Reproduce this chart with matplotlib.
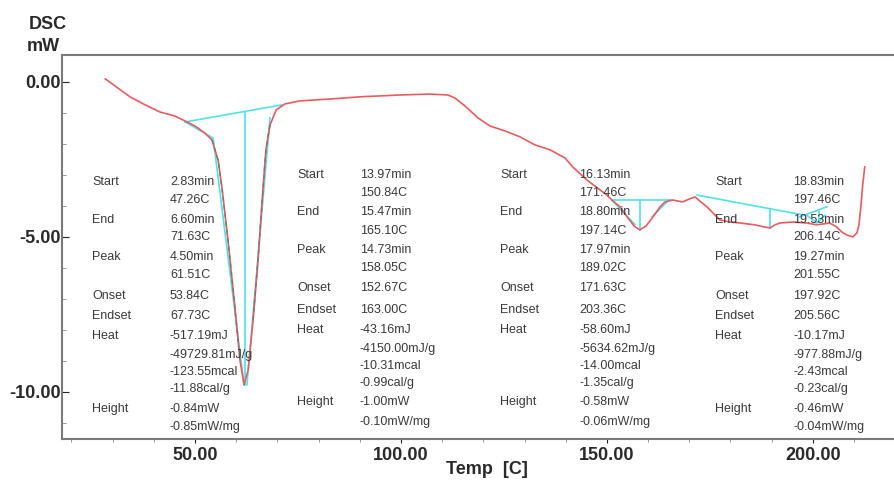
import numpy as np
import matplotlib.pyplot as plt
from matplotlib.ticker import MultipleLocator

plt.rcParams['font.family'] = ['Liberation Sans', 'DejaVu Sans']

# DSC trace (temperature in C, heat flow in mW)
temp = [28.2, 30.6, 34.2, 37.9, 41.5, 45.1, 47.6, 50.0, 52.4, 54.1, 55.6, 56.6,
        58.0, 59.5, 60.9, 61.9, 62.9, 64.1, 65.3, 66.3, 67.2, 68.2, 69.7, 71.8,
        75.5, 82.8, 90.0, 99.8, 107.0, 111.4, 113.1, 115.5, 118.7, 121.6, 125.2,
        128.9, 132.5, 136.2, 139.8, 141.7, 145.1, 148.3, 150.0, 151.2, 153.2,
        154.9, 156.6, 158.0, 159.5, 161.2, 162.9, 164.1, 166.0, 168.4, 170.1,
        171.4, 172.8, 174.3, 176.0, 177.4, 179.9, 182.3, 185.9, 188.3, 189.6,
        190.8, 192.0, 195.1, 198.5, 201.0, 204.1, 205.8, 207.0, 208.3, 209.7,
        210.7, 211.2, 211.7, 212.1, 212.6]
dsc = [0.10, -0.13, -0.48, -0.74, -0.97, -1.10, -1.26, -1.42, -1.65, -1.87, -2.52, -3.48,
       -5.10, -7.03, -8.97, -9.77, -9.29, -7.68, -5.74, -3.81, -2.19, -1.39, -0.90, -0.71,
       -0.61, -0.55, -0.48, -0.42, -0.39, -0.42, -0.52, -0.77, -1.16, -1.42, -1.58,
       -1.77, -2.03, -2.19, -2.45, -2.74, -3.16, -3.48, -3.65, -3.81, -4.03,
       -4.35, -4.65, -4.77, -4.65, -4.35, -4.03, -3.87, -3.81, -3.87, -3.77,
       -3.71, -3.87, -4.03, -4.26, -4.45, -4.52, -4.55, -4.61, -4.68, -4.71,
       -4.61, -4.55, -4.52, -4.55, -4.61, -4.55, -4.68, -4.84, -4.94, -5.00,
       -4.87, -4.61, -3.97, -3.32, -2.74]

# peak analysis construction lines: (temps, values)
cyan_lines = [
    ([47.6, 71.1], [-1.29, -0.74]),      # peak 1 baseline
    ([62.1, 62.1], [-1.00, -9.77]),      # peak 1 height
    ([47.6, 54.4, 61.9], [-1.29, -1.81, -9.77]),
    ([68.2, 62.6], [-1.16, -9.77]),
    ([151.2, 165.7], [-3.81, -3.81]),    # peak 2 baseline
    ([158.0, 158.0], [-3.81, -4.77]),
    ([151.2, 156.8], [-3.81, -4.60]),
    ([165.0, 161.0], [-3.81, -4.35]),
    ([171.9, 197.6], [-3.65, -4.29]),    # peak 3 baseline
    ([189.6, 189.6], [-4.09, -4.71]),
    ([196.8, 203.4], [-4.35, -4.03]),    # peak 4 baseline
    ([201.5, 201.5], [-4.17, -4.52]),
    ([198.5, 201.0, 203.0], [-4.30, -4.55, -4.30]),
]

row_labels = ['Start', 'End', 'Peak', 'Onset', 'Endset', 'Heat', 'Height']
label_rows = [0, 2, 4, 6, 7, 8, 12]

values_1 = ['2.83min', '47.26C', '6.60min', '71.63C', '4.50min', '61.51C', '53.84C',
            '67.73C', '-517.19mJ', '-49729.81mJ/g', '-123.55mcal', '-11.88cal/g',
            '-0.84mW', '-0.85mW/mg']
values_2 = ['13.97min', '150.84C', '15.47min', '165.10C', '14.73min', '158.05C', '152.67C',
            '163.00C', '-43.16mJ', '-4150.00mJ/g', '-10.31mcal', '-0.99cal/g',
            '-1.00mW', '-0.10mW/mg']
values_3 = ['16.13min', '171.46C', '18.80min', '197.14C', '17.97min', '189.02C', '171.63C',
            '203.36C', '-58.60mJ', '-5634.62mJ/g', '-14.00mcal', '-1.35cal/g',
            '-0.58mW', '-0.06mW/mg']
values_4 = ['18.83min', '197.46C', '19.53min', '206.14C', '19.27min', '201.55C', '197.92C',
            '205.56C', '-10.17mJ', '-977.88mJ/g', '-2.43mcal', '-0.23cal/g',
            '-0.46mW', '-0.04mW/mg']

W, H = 894, 486
fig = plt.figure(figsize=(W / 100, H / 100), dpi=100)
ax = fig.add_axes([62 / W, 1 - 439 / H, 1 - 62 / W, (439 - 55) / H])

red = '#ea5a5f'
cyan = '#4de3e8'

ax.plot(temp, dsc, color=red, lw=1.2, zorder=3)
t = np.array(temp)
d = np.array(dsc)
for lo, hi in [(53.5, 61.5), (63.0, 69.0)]:
    m = (t >= lo) & (t <= hi)
    ax.plot(t[m], d[m], color='#777777', lw=1.0, ls=(0, (3, 3)), zorder=4)
for xs, ys in cyan_lines:
    ax.plot(xs, ys, color=cyan, lw=1.2, zorder=2)

ax.set_xlim(17.7, 219.7)
ax.set_ylim(-11.52, 0.87)
ax.set_xticks([50, 100, 150, 200])
ax.set_xticklabels(['50.00', '100.00', '150.00', '200.00'])
ax.set_yticks([0, -5, -10])
ax.set_yticklabels(['0.00', '-5.00', '-10.00'])
ax.xaxis.set_minor_locator(MultipleLocator(10))
ax.yaxis.set_minor_locator(MultipleLocator(1))
ax.tick_params(axis='y', which='major', direction='in', length=5, pad=1,
               labelsize=13, colors='#222222')
ax.tick_params(axis='y', which='minor', direction='in', length=3, color='#888888')
ax.tick_params(axis='x', which='major', direction='out', length=3, pad=3,
               labelsize=13, colors='#222222')
ax.tick_params(axis='x', which='minor', direction='out', length=2, color='#888888')
for lbl in ax.get_xticklabels() + ax.get_yticklabels():
    lbl.set_fontweight('bold')
    lbl.set_color('#2a2a2a')

ax.spines['right'].set_visible(False)
for s in ['left', 'top', 'bottom']:
    ax.spines[s].set_color('#7a7a7a')
    ax.spines[s].set_linewidth(1.5)

fig.text(29 / W, 1 - 24.5 / H, 'DSC', fontsize=13, fontweight='bold', color='#2a2a2a',
         va='center', ha='left')
fig.text(27 / W, 1 - 46.5 / H, 'mW', fontsize=13, fontweight='bold', color='#2a2a2a',
         va='center', ha='left')
fig.text(487 / W, 1 - 469 / H, 'Temp  [C]', fontsize=13, fontweight='bold', color='#2a2a2a',
         va='center', ha='center')

rows_a = [182, 200, 220, 237, 257, 275, 296, 316, 336, 355, 372, 389, 409, 427]
rows_b = [175, 193, 212, 231, 250, 268, 288, 310, 330, 349, 366, 383, 402, 422]
blocks = [(92, 170, rows_a, values_1), (297, 360, rows_b, values_2),
          (500, 579, rows_b, values_3), (715, 793, rows_a, values_4)]
for lx, vx, rows, vals in blocks:
    for name, r in zip(row_labels, label_rows):
        fig.text(lx / W, 1 - rows[r] / H, name, fontsize=9, color='#3a3a3a',
                 va='center', ha='left')
    for v, y in zip(vals, rows):
        fig.text(vx / W, 1 - y / H, v, fontsize=9, color='#3a3a3a',
                 va='center', ha='left')

fig.savefig('out.png', dpi=100)
